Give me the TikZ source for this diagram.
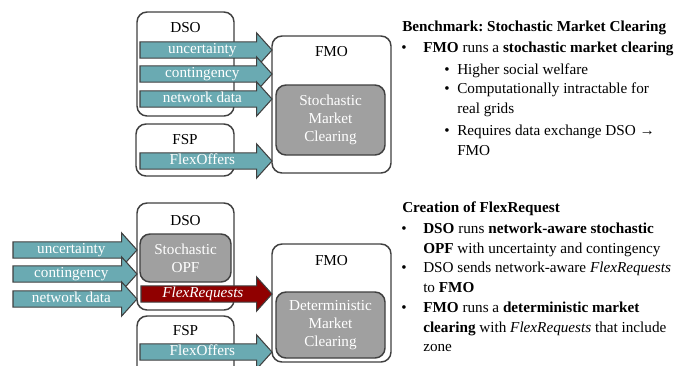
\documentclass[tikz,border=0pt]{standalone}
\usepackage{fontspec}
\setmainfont{Liberation Serif}
\usepackage{tikz}
\usetikzlibrary{shapes.arrows,positioning}

\definecolor{flowteal}{RGB}{106,170,178}
\definecolor{reqred}{RGB}{144,0,0}
\definecolor{enginegray}{RGB}{160,160,160}
\definecolor{edgegray}{RGB}{64,64,64}

\newcommand{\itemlines}[1]{\begin{tabular}[t]{@{}l@{}}#1\end{tabular}}

\begin{document}
\begin{tikzpicture}[x=0.75pt,y=-0.75pt,
                    font=\fontsize{11.4}{14.7}\selectfont\frenchspacing,
                    actor/.style={draw=edgegray,line width=1.1pt,rounded corners=7.5pt,
                                  fill=white,inner sep=0pt},
                    engine/.style={draw=edgegray,line width=1.1pt,rounded corners=7.5pt,
                                   fill=enginegray,text=white,align=center,inner sep=0pt,
                                   font=\fontsize{11.4}{13.5}\selectfont},
                    flow/.style={single arrow,draw=edgegray,line width=0.8pt,
                                 fill=flowteal,text=white,
                                 single arrow head extend=6.75pt,single arrow tip angle=96,
                                 text height=7.6pt,text depth=2.3pt,
                                 inner ysep=0.7pt,inner xsep=0pt,outer sep=0pt,
                                 minimum height=99pt,anchor=tip},
                    item/.style={anchor=base west,inner sep=0pt},
                    bul/.style={anchor=base west,inner sep=0pt}]

\useasboundingbox (0,0) rectangle (686,365);
\clip (0,0) rectangle (686,365);

% benchmark: stochastic market clearing
\node[actor,minimum width=72.75pt,minimum height=78pt] (DSO1) at (185.5,64) {};
\node (DSOL1) at (185.5,28) {DSO};
\node[actor,minimum width=73.5pt,minimum height=39pt] (FSP1) at (185,150) {};
\node (FSPL1) at (185,140) {FSP};
\node[actor,minimum width=89.25pt,minimum height=102.75pt] (FMO1) at (331.5,104.5) {};
\node (FMOL1) at (331.5,52) {FMO};
\node[engine,minimum width=81.75pt,minimum height=52.5pt] (SMC1) at (330.5,120)
     {Stochastic\\Market\\Clearing};

\node[flow] (UNC1) at (272,50) {uncertainty};
\node[flow] (CON1) at (272,74) {contingency};
\node[flow] (NET1) at (272,99) {network data};
\node[flow] (OFF1) at (272,161) {FlexOffers};

% creation of flexrequest
\node[actor,minimum width=72.75pt,minimum height=80.25pt] (DSO2) at (185.5,256.5) {};
\node (DSOL2) at (185.5,221) {DSO};
\node[engine,minimum width=68.25pt,minimum height=36pt] (OPF2) at (185.5,258)
     {Stochastic\\OPF};
\node[actor,minimum width=72.75pt,minimum height=48pt] (FSP2) at (185.5,348) {};
\node (FSPL2) at (185.5,331) {FSP};
\node[actor,minimum width=89.25pt,minimum height=88.5pt] (FMO2) at (331.5,303) {};
\node (FMOL2) at (331.5,261) {FMO};
\node[engine,minimum width=81.75pt,minimum height=49.5pt] (DMC2) at (330.5,325)
     {Deterministic\\Market\\Clearing};

\node[flow,minimum height=93pt] (UNC2) at (137,250) {uncertainty};
\node[flow,minimum height=93pt] (CON2) at (137,274) {contingency};
\node[flow,minimum height=93pt] (NET2) at (137,299) {network data};
\node[flow,fill=reqred,minimum height=98.25pt] (REQ2) at (272,294) {\itshape FlexRequests};
\node[flow] (OFF2) at (272,352) {FlexOffers};

% text on the right
\node[item] (TTL1) at (402,31.5) {\bfseries Benchmark: Stochastic Market Clearing};
\node[bul] (B11) at (401,52.5) {•};
\node[item] (T11) at (423,52.5) {\textbf{FMO} runs a \textbf{stochastic market clearing}};
\node[bul] (B12) at (444,74.5) {•};
\node[item] (T12) at (457,74.5) {Higher social welfare};
\node[bul] (B13) at (444,93.5) {•};
\node[item] (T13) at (457,93.5) {\itemlines{Computationally intractable for\\real grids}};
\node[bul] (B14) at (444,135.5) {•};
\node[item] (T14) at (457,135.5) {\itemlines{Requires data exchange DSO →\\FMO}};

\node[item] (TTL2) at (402,212.5) {\bfseries Creation of FlexRequest};
\node[bul] (B21) at (401,233.5) {•};
\node[item] (T21) at (423,233.5)
     {\itemlines{\textbf{DSO} runs \textbf{network-aware stochastic}\\\textbf{OPF} with uncertainty and contingency}};
\node[bul] (B22) at (401,272.5) {•};
\node[item] (T22) at (423,272.5)
     {\itemlines{DSO sends network-aware \textit{FlexRequests}\\to \textbf{FMO}}};
\node[bul] (B23) at (401,312.5) {•};
\node[item] (T23) at (423,312.5)
     {\itemlines{\textbf{FMO} runs a \textbf{deterministic market}\\\textbf{clearing} with \textit{FlexRequests} that include\\zone}};
\end{tikzpicture}
\end{document}
